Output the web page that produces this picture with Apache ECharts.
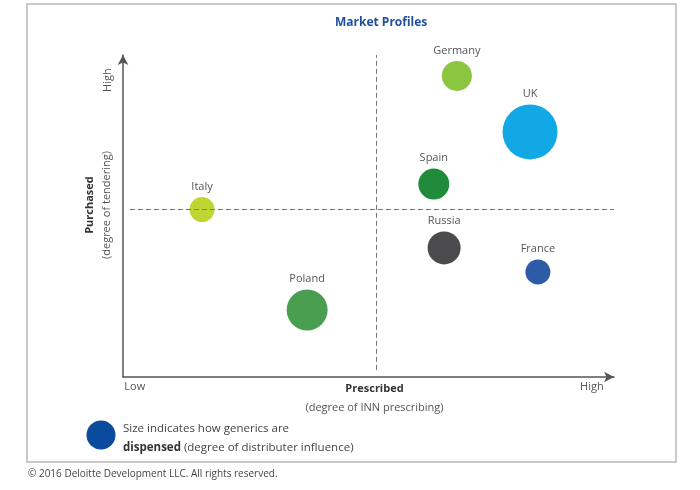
<!DOCTYPE html>
<html>
<head>
<meta charset="utf-8">
<script src="https://cdn.jsdelivr.net/npm/echarts@6/dist/echarts.min.js"></script>
<style>html,body{margin:0;padding:0;background:#fff;}#chart{width:700px;height:490px;}</style>
</head>
<body>
<div id="chart"></div>
<script>
// ---- data ----
const countries = ['Germany', 'UK', 'Spain', 'Italy', 'Russia', 'France', 'Poland'];
const prescribed = [68.0, 82.9, 63.3, 16.1, 65.4, 84.5, 37.5];   // x: degree of INN prescribing
const purchased = [93.5, 76.1, 59.9, 52.0, 40.1, 32.6, 20.8];    // y: degree of tendering
const dispensed = [30, 55, 31, 25, 33, 25, 41];                  // bubble size: distributer influence
const xTickValues = [2.4, 95.5];
const xTickLabels = ['Low', 'High'];
const yTickValues = [92.2];
const yTickLabels = ['High'];
const quadrantX = 51.5;
const quadrantY = 52.2;

// ---- styles ----
const palette = ['#8cc540', '#12a8e6', '#1f8b3b', '#bdd631', '#4b4b4d', '#2d5ba8', '#4a9e50'];
const FONT = 'Open Sans';

const chart = echarts.init(document.getElementById('chart'), null, {renderer: 'canvas'});

const seriesData = countries.map((c, i) => ({
  name: c,
  value: [prescribed[i], purchased[i], dispensed[i]],
  itemStyle: {color: palette[i], opacity: 1}
}));

const option = {
  backgroundColor: '#fff',
  animation: false,
  textStyle: {fontFamily: FONT},
  title: {
    text: 'Market Profiles',
    left: 330, top: 12,
    textStyle: {fontFamily: FONT, fontSize: 12, fontWeight: 'bold', color: '#1f4f9c'}
  },
  grid: {left: 123, right: 86, top: 55, bottom: 113},
  xAxis: {
    type: 'value', min: 0, max: 100,
    splitLine: {show: false},
    axisTick: {show: false},
    axisLine: {
      symbol: ['none', 'arrow'], symbolSize: [8, 10],
      lineStyle: {color: '#555', width: 1.5}
    },
    axisLabel: {
      customValues: xTickValues,
      margin: 4,
      fontFamily: FONT, fontSize: 11, color: '#555',
      formatter: v => xTickLabels[xTickValues.indexOf(v)] || ''
    },
    name: '{b|Prescribed}\n{n|(degree of INN prescribing)}',
    nameLocation: 'middle',
    nameGap: 2,
    nameMoveOverlap: false,
    nameTextStyle: {
      padding: [0, 0, 0, 12],
      verticalAlign: 'top',
      rich: {
        b: {fontFamily: FONT, fontSize: 11, fontWeight: 'bold', color: '#333', lineHeight: 19},
        n: {fontFamily: FONT, fontSize: 11, color: '#555', lineHeight: 19}
      }
    }
  },
  yAxis: {
    type: 'value', min: 0, max: 100,
    splitLine: {show: false},
    axisTick: {show: false},
    axisLine: {
      symbol: ['none', 'arrow'], symbolSize: [8, 10],
      lineStyle: {color: '#555', width: 1.5}
    },
    axisLabel: {
      customValues: yTickValues,
      rotate: 90,
      margin: 10,
      fontFamily: FONT, fontSize: 11, color: '#555',
      formatter: v => yTickLabels[yTickValues.indexOf(v)] || ''
    },
    name: '{b|Purchased}\n{n|(degree of tendering)}',
    nameLocation: 'middle',
    nameRotate: 90,
    nameGap: 8,
    nameMoveOverlap: false,
    nameTextStyle: {
      padding: [0, 0, 0, 22],
      rich: {
        b: {fontFamily: FONT, fontSize: 11, fontWeight: 'bold', color: '#333', lineHeight: 17},
        n: {fontFamily: FONT, fontSize: 11, color: '#555', lineHeight: 17}
      }
    }
  },
  series: [{
    type: 'scatter',
    data: seriesData,
    symbolSize: v => v[2],
    label: {
      show: true, position: 'top', distance: 5,
      formatter: p => p.name,
      fontFamily: FONT, fontSize: 11, color: '#555'
    },
    markLine: {
      silent: true,
      symbol: 'none',
      label: {show: false},
      lineStyle: {color: '#777', width: 1, type: [5, 3]},
      data: [
        [{coord: [1.4, quadrantY]}, {coord: [100, quadrantY]}],
        [{coord: [quadrantX, 2.2]}, {coord: [quadrantX, 100]}]
      ]
    }
  }],
  graphic: [
    {type: 'rect', shape: {x: 27, y: 4, width: 649, height: 458},
     style: {fill: 'none', stroke: '#c9c9c9', lineWidth: 2}, silent: true, z: -1},
    {type: 'circle', shape: {cx: 101, cy: 435, r: 14.5}, style: {fill: '#0b4b9e'}},
    {type: 'text', left: 123, top: 419,
     style: {
       text: 'Size indicates how generics are\n{b|dispensed} (degree of distributer influence)',
       fontFamily: FONT, fontSize: 11.5, fill: '#444', lineHeight: 19,
       rich: {b: {fontFamily: FONT, fontSize: 11.5, fontWeight: 'bold', fill: '#333', lineHeight: 19}}
     }},
    {type: 'text', left: 28, top: 469,
     style: {text: '\u00a9 2016 Deloitte Development LLC. All rights reserved.',
             fontFamily: FONT, fontSize: 10, fill: '#444'}}
  ]
};
chart.setOption(option);
</script>
</body>
</html>
